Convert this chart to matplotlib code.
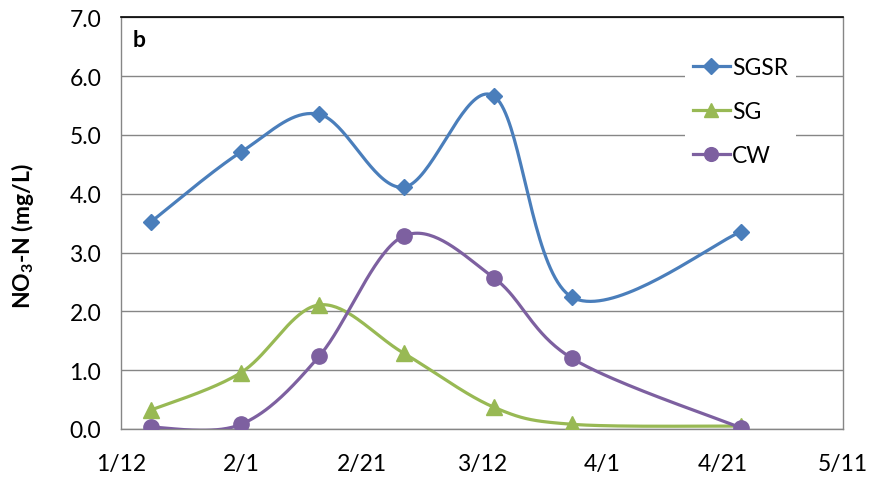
import numpy as np
import pandas as pd
import matplotlib
matplotlib.use("Agg")
import matplotlib.pyplot as plt
import matplotlib.dates as mdates

# Sampling dates and NO3-N concentrations (mg/L)
sample_dates = ["2012-01-17", "2012-02-01", "2012-02-14", "2012-02-28",
                "2012-03-14", "2012-03-27", "2012-04-24"]
sgsr = [3.52, 4.71, 5.35, 4.11, 5.66, 2.24, 3.35]
sg = [0.32, 0.96, 2.11, 1.29, 0.37, 0.08, 0.05]
cw = [0.03, 0.08, 1.24, 3.28, 2.57, 1.20, 0.02]

series_names = ["SGSR", "SG", "CW"]
series_colors = ["#4A7EBB", "#98B954", "#7D60A0"]
series_markers = ["D", "^", "o"]
series_msize = [8.5, 11, 11]

tick_dates = ["2012-01-12", "2012-02-01", "2012-02-21", "2012-03-12",
              "2012-04-01", "2012-04-21", "2012-05-11"]
tick_labels = ["1/12", "2/1", "2/21", "3/12", "4/1", "4/21", "5/11"]
y_ticks = [0, 1, 2, 3, 4, 5, 6, 7]

FONT = "Lato"
FS = 16.5

fig = plt.figure(figsize=(8.69, 4.81), dpi=100)
ax = fig.add_axes([120.7 / 869, 51 / 481, (843 - 120.7) / 869, (430 - 18.3) / 481])

xnum = mdates.date2num(pd.to_datetime(sample_dates))
tnum = mdates.date2num(pd.to_datetime(tick_dates))
ax.set_xlim(tnum[0], tnum[-1])
ax.set_ylim(0, 7)


def smooth_curve(x, y, n=40):
    """Bezier smoothing in display space (Catmull-Rom style tangents)."""
    pts = ax.transData.transform(np.column_stack([x, y]))
    P = np.vstack([pts[0], pts, pts[-1]])
    out = []
    t = np.linspace(0, 1, n)[:, None]
    for i in range(1, len(P) - 2):
        p0, p3 = P[i], P[i + 1]
        c1 = p0 + (P[i + 1] - P[i - 1]) / 6.0
        c2 = p3 - (P[i + 2] - P[i]) / 6.0
        seg = ((1 - t) ** 3) * p0 + 3 * ((1 - t) ** 2) * t * c1 \
            + 3 * (1 - t) * t ** 2 * c2 + t ** 3 * p3
        out.append(seg if i == 1 else seg[1:])
    curve = np.vstack(out)
    return ax.transData.inverted().transform(curve)


handles = []
for vals, name, col, mk, ms in zip([sgsr, sg, cw], series_names,
                                   series_colors, series_markers, series_msize):
    c = smooth_curve(xnum, vals)
    ax.plot(c[:, 0], c[:, 1], color=col, lw=2.3, zorder=3, solid_capstyle="round")
    ax.plot(xnum, vals, linestyle="none", marker=mk, markersize=ms,
            color=col, markeredgecolor=col, zorder=4)
    h, = ax.plot([], [], color=col, lw=2.3, marker=mk, markersize=ms * 0.9,
                 label=name)
    handles.append(h)

ax.set_yticks(y_ticks)
ax.set_yticklabels([f"{v:.1f}" for v in y_ticks], fontsize=FS, family=FONT)
ax.set_xticks(tnum)
ax.set_xticklabels(tick_labels, fontsize=FS, family=FONT)
ax.tick_params(axis="y", length=0, pad=14)
ax.tick_params(axis="x", length=0, pad=17)

ax.grid(axis="y", color="#868686", lw=1.0)
ax.set_axisbelow(True)
for s in ["left", "right", "bottom"]:
    ax.spines[s].set_color("#868686")
    ax.spines[s].set_linewidth(1.0)
ax.spines["top"].set_color("black")
ax.spines["top"].set_linewidth(1.2)

ax.text(0.016, 0.945, "b", transform=ax.transAxes, fontsize=FS,
        fontweight="bold", family=FONT, va="center", ha="left")

leg = ax.legend(handles=handles, loc="upper left",
                bbox_to_anchor=((685 - 120.7) / (843 - 120.7), (430 - 50) / (430 - 18.3)),
                frameon=True, fancybox=False, framealpha=1, edgecolor="white",
                prop={"family": FONT, "size": FS}, handlelength=1.6,
                handletextpad=0.1, labelspacing=1.0, borderpad=0.35,
                borderaxespad=0)
leg.get_frame().set_linewidth(0)

fig.text(23 / 869, 1 - 236 / 481, r"NO$_\mathregular{3}$-N (mg/L)", rotation=90,
         fontsize=16.5, fontweight="bold", family=FONT, va="center", ha="center")

fig.savefig("out.png", dpi=100)
